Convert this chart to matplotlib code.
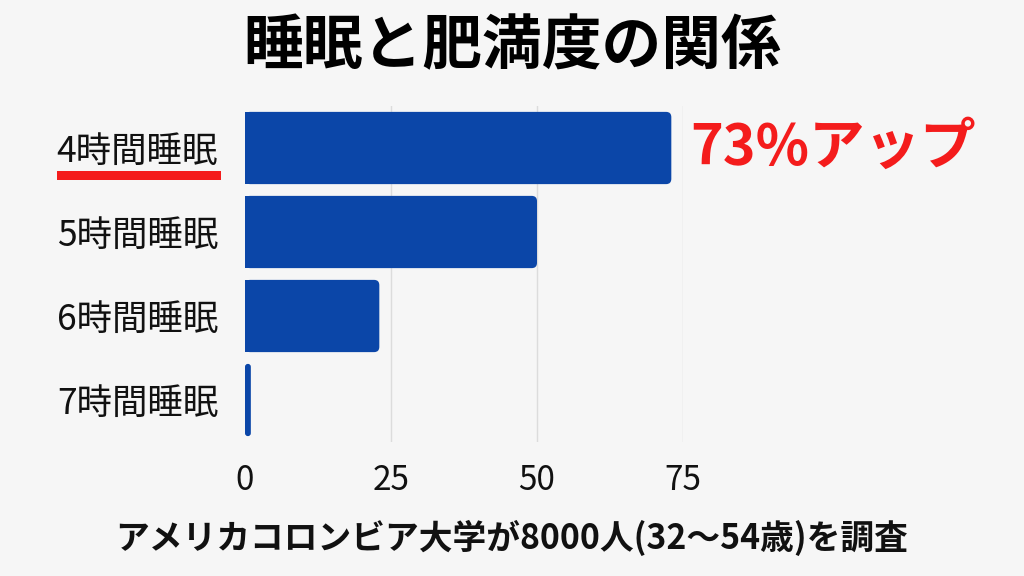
import numpy as np
import matplotlib
matplotlib.use('Agg')
import matplotlib.pyplot as plt
from matplotlib.patches import FancyBboxPatch, Rectangle

plt.rcParams['font.family'] = ['Noto Sans CJK JP', 'DejaVu Sans']

# data
labels = ['4時間睡眠', '5時間睡眠', '6時間睡眠', '7時間睡眠']
values = [73, 50, 23, 1]
xticks = [0, 25, 50, 75]
title = '睡眠と肥満度の関係'
callout = '73%アップ'
note = 'アメリカコロンビア大学が8000人(32〜54歳)を調査'

barColor = '#0b46a8'
red = '#f41c1c'

fig = plt.figure(figsize=(10.24, 5.76), dpi=100)
fig.patch.set_facecolor('#f6f6f6')

# axes placed so 0 -> x=245px, 75 -> x=683px
ax = fig.add_axes([245/1024, 1-442/576, 438/1024, 336/576])
ax.set_facecolor('none')
ax.set_xlim(0, 75)
ax.set_ylim(3.5, -0.5)

for x in xticks[1:]:
    ax.axvline(x, color='#dcdcdc', lw=1, zorder=0)

h = 0.86
r = 0.9
asp = (438/75)/(336/4)  # x-unit px / y-unit px
for i, v in enumerate(values):
    ax.add_patch(FancyBboxPatch((0, i - h/2), v, h,
                                boxstyle='round,pad=0,rounding_size=%s' % min(r, v/2),
                                mutation_aspect=asp, fc=barColor, ec='none', zorder=2))
    if v > 2*r:
        ax.add_patch(Rectangle((0, i - h/2), v - r, h, fc=barColor, ec='none', zorder=2))

ax.set_yticks(range(len(labels)))
ax.set_yticklabels(labels, fontsize=25.5, color='#111111')
ax.set_xticks(xticks)
ax.set_xticklabels([str(t) for t in xticks], fontsize=24, color='#111111')
ax.tick_params(axis='y', length=0, pad=19.5)
ax.tick_params(axis='x', length=0, pad=15)
for s in ax.spines.values():
    s.set_visible(False)

# underline under the first label
fig.add_artist(Rectangle((57/1024, 1-180/576), 164/1024, 9/576, transform=fig.transFigure,
                         fc=red, ec='none'))

ax.text(76.2, 0, callout, color=red, fontsize=40, fontweight='bold',
        ha='left', va='center', clip_on=False)

fig.text(0.5, 1-47/576, title, fontsize=43, fontweight='bold', ha='center', va='center',
         color='#000000')
fig.text(0.5, 1-538/576, note, fontsize=24.3, fontweight='bold', ha='center', va='center',
         color='#111111')

fig.savefig('out.png', dpi=100, facecolor=fig.get_facecolor())
